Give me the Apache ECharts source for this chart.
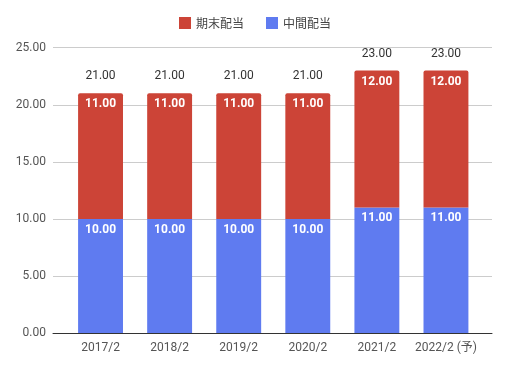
<!DOCTYPE html>
<html><head><meta charset="utf-8">
<script src="https://cdn.jsdelivr.net/npm/echarts@6/dist/echarts.min.js"></script>
<style>html,body{margin:0;padding:0;background:#fff}#c{width:510px;height:369px}</style>
</head><body><div id="c"></div>
<script>
const categories = ['2017/2','2018/2','2019/2','2020/2','2021/2','2022/2 (予)'];
const interim = [10, 10, 10, 10, 11, 11];   // 中間配当
const yearEnd = [11, 11, 11, 11, 12, 12];   // 期末配当
const yTicks = [0, 5, 10, 15, 20, 25];
const totals = categories.map((_, i) => interim[i] + yearEnd[i]);

const FONT = 'Roboto, "Noto Sans CJK JP", sans-serif';
const RED = '#cc4437', BLUE = '#5f7bf0';
const chart = echarts.init(document.getElementById('c'), null, {renderer: 'canvas'});
chart.setOption({
  animation: false,
  textStyle: {fontFamily: FONT},
  legend: {
    top: 12, left: 'center', itemWidth: 12, itemHeight: 12, itemGap: 22,
    icon: 'rect',
    textStyle: {fontFamily: '"Noto Sans CJK JP", sans-serif', fontSize: 12, color: '#444'},
    data: ['期末配当', '中間配当']
  },
  grid: [
    {left: 53, right: 18, top: 47.7, bottom: 36},
    {left: 66, right: 29.5, top: 47.7, bottom: 36}
  ],
  xAxis: [
    {gridIndex: 0, type: 'value', min: 0, max: 1, axisLabel: {show: false}, axisTick: {show: false},
     splitLine: {show: false}, axisLine: {show: true, lineStyle: {color: '#333', width: 1}}, z: 5},
    {gridIndex: 1, type: 'category', data: categories, axisLine: {show: false}, axisTick: {show: false},
     axisLabel: {color: '#555', fontSize: 12, margin: 9, fontFamily: FONT, interval: 0}}
  ],
  yAxis: [
    {gridIndex: 0, type: 'value', min: yTicks[0], max: yTicks[yTicks.length-1], interval: 5,
     axisLine: {show: false}, axisTick: {show: false},
     axisLabel: {color: '#555', fontSize: 12, margin: 7, formatter: v => v.toFixed(2)},
     splitLine: {lineStyle: {color: '#ccc', width: 1}}},
    {gridIndex: 1, type: 'value', min: 0, max: 25, interval: 5, show: false, splitLine: {show: false}}
  ],
  series: [
    {name: '中間配当', type: 'bar', stack: 's', xAxisIndex: 1, yAxisIndex: 1, data: interim,
     barWidth: '65%', itemStyle: {color: BLUE},
     label: {show: true, position: 'insideTop', distance: 5, color: '#fff', fontWeight: 'bold', fontSize: 12,
             formatter: p => p.value.toFixed(2)}},
    {name: '期末配当', type: 'bar', stack: 's', xAxisIndex: 1, yAxisIndex: 1, data: yearEnd,
     barWidth: '65%', itemStyle: {color: RED, borderRadius: [2, 2, 0, 0]},
     label: {show: true, position: 'insideTop', distance: 5, color: '#fff', fontWeight: 'bold', fontSize: 12,
             formatter: p => p.value.toFixed(2)}},
    {name: 'total', type: 'bar', stack: 's', xAxisIndex: 1, yAxisIndex: 1, data: totals.map(() => 0),
     barWidth: '65%', itemStyle: {color: 'transparent'}, silent: true,
     label: {show: true, position: 'top', distance: 11, color: '#333', fontSize: 12,
             formatter: p => totals[p.dataIndex].toFixed(2)}}
  ]
});
</script></body></html>
